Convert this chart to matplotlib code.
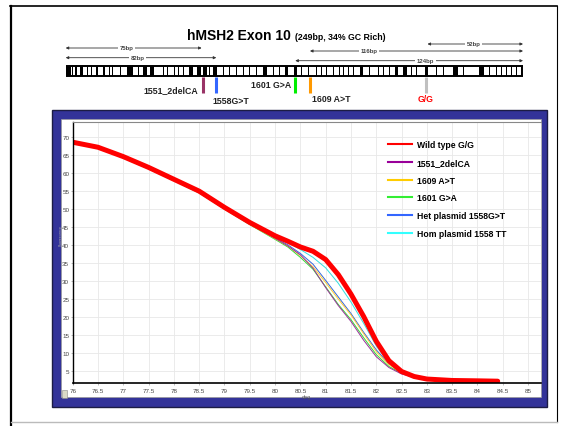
import matplotlib
matplotlib.use("Agg")
import matplotlib.pyplot as plt
from matplotlib.patches import Rectangle
from matplotlib.lines import Line2D

plt.rcParams['font.family'] = ['Liberation Sans', 'DejaVu Sans']

# ---- melt curve data ----
temps = [76, 76.5, 77, 77.5, 78, 78.5, 79, 79.5, 80, 80.25, 80.5, 80.75,
         81, 81.25, 81.5, 81.75, 82, 82.25, 82.5, 82.75, 83, 83.5, 84, 84.4]
wild_gg = [68.6, 67.2, 64.6, 61.6, 58.3, 55.0, 50.5, 46.3, 42.6, 41.1, 39.5, 38.3,
           36.0, 31.8, 26.4, 20.2, 13.3, 7.9, 4.9, 3.5, 2.8, 2.4, 2.3, 2.2]
del_1551 = [68.4, 67.0, 64.3, 61.3, 58.0, 54.6, 50.1, 45.9, 41.9, 39.8, 37.3, 33.6,
            28.2, 23.2, 18.8, 13.6, 9.0, 6.0, 4.2, 3.3, 2.8, 2.4, 2.3, 2.2]
at_1609 = [68.5, 67.1, 64.3, 61.3, 58.0, 54.6, 50.1, 45.8, 41.8, 39.8, 37.1, 34.0,
           29.6, 25.0, 20.6, 15.4, 10.4, 6.8, 4.6, 3.4, 2.8, 2.4, 2.3, 2.2]
ga_1601 = [68.4, 67.0, 64.2, 61.2, 57.9, 54.5, 50.0, 45.7, 41.6, 39.5, 36.6, 33.3,
           28.4, 23.5, 19.3, 14.3, 9.6, 6.3, 4.4, 3.3, 2.7, 2.3, 2.2, 2.1]
het_1558 = [68.5, 67.1, 64.4, 61.4, 58.1, 54.8, 50.3, 46.0, 42.0, 40.1, 37.7, 34.7,
            30.2, 25.6, 21.0, 15.8, 10.9, 7.0, 4.7, 3.5, 2.8, 2.4, 2.3, 2.2]
hom_1558 = [68.5, 67.1, 64.5, 61.5, 58.2, 54.9, 50.4, 46.2, 42.4, 40.8, 38.8, 36.6,
            33.7, 29.4, 24.2, 18.3, 12.0, 7.2, 4.6, 3.4, 2.7, 2.3, 2.2, 2.1]

series_labels = ['Wild type G/G', '1551_2delCA', '1609 A>T', '1601 G>A',
                 'Het plasmid 1558G>T', 'Hom plasmid 1558 TT']
series_values = [wild_gg, del_1551, at_1609, ga_1601, het_1558, hom_1558]
series_colors = ['#ff0000', '#993399', '#ffcc33', '#33dd33', '#3366dd', '#33dddd']
legend_colors = ['#ff0000', '#990099', '#ffcc00', '#33ee33', '#3366ff', '#33ffff']

x_ticks = [76 + 0.5 * i for i in range(19)]
x_ticklabels = ['76', '76.5', '77', '77.5', '78', '78.5', '79', '79.5', '80', '80.5',
                '81', '81.5', '82', '82.5', '83', '83.5', '84', '84.5', '85']
y_ticks = [5, 10, 15, 20, 25, 30, 35, 40, 45, 50, 55, 60, 65, 70]

# ---- exon diagram data (positions in bp along the 249 bp exon) ----
stripe_bp = [1.3, 3.8, 5.6, 8.5, 11.8, 14.2, 17.2, 20.9, 23.8, 25.6, 29.9, 35.0,
             39.5, 43.0, 47.0, 53.2, 55.3, 59.0, 61.3, 64.0, 68.2, 72.4, 75.8,
             78.2, 81.3, 85.8, 89.4, 93.1, 96.7, 100.3, 103.9, 108.5, 113.0,
             116.6, 120.3, 125.2, 128.4, 132.1, 136.6, 139.3, 142.0, 145.7,
             148.9, 151.1, 153.8, 156.6, 161.1, 165.6, 170.2, 172.9, 176.5,
             180.1, 184.7, 188.3, 191.0, 196.5, 201.9, 205.5, 212.2, 216.4,
             226.4, 230.9, 234.6, 237.3, 240.0, 242.7, 245.4, 248.2]
stripe_w = [2.7, 0.6, 0.6, 1.5, 0.6, 0.6, 0.9, 0.9, 0.6, 0.6, 0.9, 2.9,
            0.6, 2.2, 2.2, 0.6, 0.6, 0.6, 0.6, 0.6, 1.8, 2.2, 1.8,
            0.6, 1.8, 0.6, 0.6, 0.6, 0.6, 0.6, 0.6, 1.8, 0.6,
            0.6, 1.8, 1.8, 0.6, 0.6, 0.6, 0.6, 0.6, 0.6,
            0.6, 0.6, 0.6, 0.6, 1.8, 0.6, 0.6, 0.6, 0.6,
            1.8, 1.8, 0.6, 0.6, 1.8, 0.6, 0.6, 2.7, 0.6,
            2.2, 0.6, 0.6, 0.6, 0.6, 0.6, 0.6, 0.6]

variant_names = ['1551_2delCA', '1558G>T', '1601 G>A', '1609 A>T', 'G/G']
variant_bp = [75, 82, 125, 133, 196]
variant_colors = ['#993366', '#3366ff', '#00ee00', '#ff9900', '#c0c0c0']
variant_text_colors = ['#222222', '#222222', '#222222', '#222222', '#ff0000']

amplicon_names = ['75bp', '82bp', '116bp', '124bp', '52bp']
amplicon_start = [0, 0, 133, 125, 197]
amplicon_end = [74, 82, 249, 249, 249]

W, H = 571, 427
fig = plt.figure(figsize=(W / 100, H / 100), dpi=100)

# background layer in pixel coordinates
bg = fig.add_axes([0, 0, 1, 1])
bg.set_xlim(0, W)
bg.set_ylim(H, 0)
bg.axis('off')

# slide frame
bg.plot([11, 11], [7, 427], color='black', lw=1.6)
bg.plot([10, 557], [7, 7], color='black', lw=1.2)
bg.plot([557, 557], [7, 423], color='black', lw=0.8)
bg.plot([11, 557], [423, 423], color='#bbbbbb', lw=1.0)

# blue chart panel
bg.add_patch(Rectangle((52, 111), 495, 297, facecolor='#333399', edgecolor='#1c1c44', lw=1.0))
bg.add_patch(Rectangle((61, 120), 480, 278, facecolor='white', edgecolor='#999999', lw=0.5))
bg.add_patch(Rectangle((62, 391), 4.5, 8, facecolor='#d9d9c6', edgecolor='#888888', lw=0.4))

# title
bg.text(187, 36, 'hMSH2 Exon 10', fontsize=10, fontweight='bold', va='center', ha='left')
bg.text(295, 37, '(249bp, 34% GC Rich)', fontsize=6.3, fontweight='bold', va='center', ha='left')

# ---- exon diagram ----
x0, x1 = 65.7, 523
y_top, y_bot = 38, 110
dg = fig.add_axes([x0 / W, 1 - y_bot / H, (x1 - x0) / W, (y_bot - y_top) / H])
dg.set_xlim(0, 249)
dg.set_ylim(y_bot, y_top)
dg.axis('off')

bar_y, bar_h = 66.7, 10.6
dg.add_patch(Rectangle((0, bar_y), 249, bar_h, facecolor='white', edgecolor='black', lw=1.4))
for c, w in zip(stripe_bp, stripe_w):
    dg.add_patch(Rectangle((c - w / 2, bar_y), w, bar_h, facecolor='black', edgecolor='none'))

amp_y = [49, 58.7, 52, 61.7, 45]
amp_label_x = [33, 39, 165, 196, 222]
for name, s, e, yy, lx in zip(amplicon_names, amplicon_start, amplicon_end, amp_y, amp_label_x):
    dg.annotate('', xy=(e, yy), xytext=(s, yy),
                arrowprops=dict(arrowstyle='<|-|>', lw=0.6, color='#333333',
                                mutation_scale=4, shrinkA=0, shrinkB=0))
    dg.text(lx, yy - 0.6, name, fontsize=4.3, fontweight='bold', color='#444444',
            ha='center', va='center',
            bbox=dict(facecolor='white', edgecolor='none', pad=1.2))

label_pos = [(72, 90.7, 'right'), (80, 101.7, 'left'), (123, 85, 'right'),
             (134, 99, 'left'), (196, 99, 'center')]
for name, bp, col, tcol, (lx, ly, ha) in zip(variant_names, variant_bp, variant_colors,
                                             variant_text_colors, label_pos):
    dg.plot([bp, bp], [77.6, 93.5], color=col, lw=2.2, solid_capstyle='butt')
    dg.text(lx, ly, name, fontsize=6.3, fontweight='bold', color=tcol, ha=ha, va='center')

# ---- melt curve chart ----
ax_l, ax_r, ax_t, ax_b = 72.7, 540.7, 122.7, 384
ax = fig.add_axes([ax_l / W, 1 - ax_b / H, (ax_r - ax_l) / W, (ax_b - ax_t) / H])
ax.set_facecolor('white')

for vals, col, lab in zip(series_values[::-1], series_colors[::-1], series_labels[::-1]):
    lw = 3.6 if lab == 'Wild type G/G' else 0.7
    ax.plot(temps, vals, color=col, lw=lw, solid_capstyle='round')

ax.set_xlim(76, 85.25)
ax.set_ylim(1.7, 74.3)
ax.set_xticks(x_ticks)
ax.set_xticklabels(x_ticklabels)
ax.set_yticks(y_ticks)
ax.tick_params(labelsize=4.5, labelcolor='#444444', length=1.5, width=0.4, pad=1,
               color='#888888')
ax.tick_params(axis='x', pad=2)
ax.grid(True, color='#e8e8e8', lw=0.6)
ax.set_axisbelow(True)
ax.spines['left'].set_color('black')
ax.spines['left'].set_linewidth(1.0)
ax.spines['bottom'].set_color('black')
ax.spines['bottom'].set_linewidth(1.2)
ax.spines['top'].set_color('#888888')
ax.spines['top'].set_linewidth(0.8)
ax.spines['right'].set_color('#bbbbbb')
ax.spines['right'].set_linewidth(0.5)

ax.set_xlabel('deg', fontsize=3.5, color='#555555', labelpad=0.5, family='DejaVu Sans')
bg.text(60.8, 236, 'Fluorescence', fontsize=2.3, color='#aaaaaa', rotation=90,
        ha='center', va='center', family='DejaVu Sans')

handles = [Line2D([0], [0], color=c, lw=1.5) for c in legend_colors]
ax.legend(handles, series_labels, loc='upper left', bbox_to_anchor=(0.674, 0.93),
          frameon=False, prop=dict(size=6.2, weight='bold'), handlelength=2.8,
          handletextpad=0.5, labelspacing=1.02, borderpad=0, borderaxespad=0)

fig.savefig('out.png', dpi=100)
